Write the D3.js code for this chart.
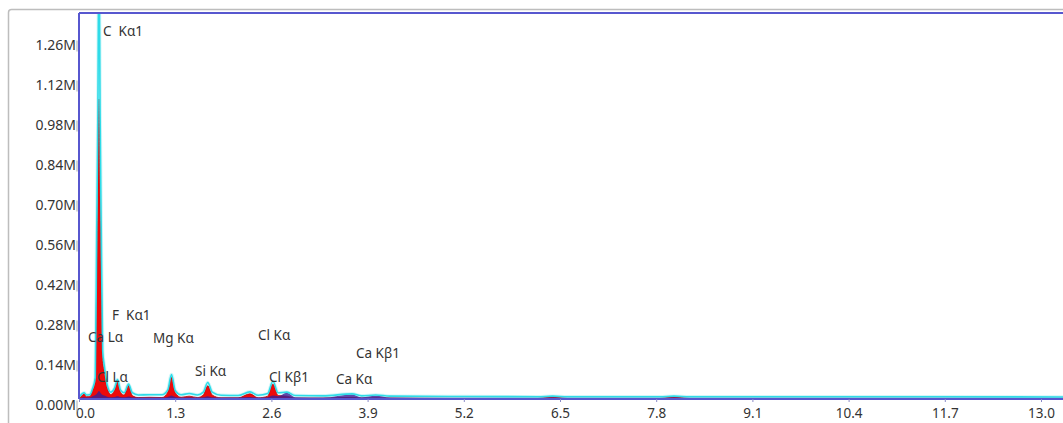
<!DOCTYPE html>
<html>
<head>
<meta charset="utf-8">
<script src="https://cdn.jsdelivr.net/npm/d3@7"></script>
<style>
  html, body { margin: 0; padding: 0; background: #fff; }
  svg { display: block; }
  text { font-family: "Noto Sans", "Open Sans", sans-serif; fill: #333; }
</style>
</head>
<body>
<svg id="chart" width="1063" height="423"></svg>
<script>
// ---- data ----
const energyKeV = [0.00,0.04,0.07,0.10,0.15,0.18,0.22,0.24,0.255,0.27,0.285,0.30,0.32,0.34,0.38,0.43,0.48,0.52,0.56,0.61,0.67,0.72,0.80,0.95,1.12,1.20,1.25,1.30,1.38,1.49,1.60,1.68,1.74,1.80,1.92,2.15,2.31,2.42,2.55,2.62,2.69,2.81,2.92,3.30,3.69,3.82,4.01,4.20,5.00,6.20,6.40,6.60,7.85,8.04,8.25,10.0,13.4];
// measured spectrum (counts, millions)
const spectrumM = [0.006,0.018,0.022,0.014,0.016,0.034,0.075,0.60,1.00,1.60,1.00,0.60,0.17,0.12,0.05,0.024,0.038,0.068,0.032,0.022,0.052,0.022,0.014,0.015,0.015,0.032,0.086,0.030,0.015,0.019,0.014,0.024,0.058,0.024,0.013,0.012,0.025,0.013,0.019,0.062,0.022,0.024,0.012,0.011,0.018,0.011,0.014,0.010,0.009,0.008,0.010,0.008,0.008,0.010,0.008,0.008,0.007];
// fitted element peaks (counts, millions)
const peaksM = [0.000,0.012,0.018,0.008,0.010,0.028,0.060,0.42,0.70,1.05,0.70,0.42,0.13,0.10,0.04,0.016,0.030,0.060,0.024,0.014,0.047,0.012,0.005,0.006,0.005,0.024,0.076,0.022,0.006,0.010,0.005,0.014,0.046,0.014,0.004,0.004,0.018,0.004,0.010,0.052,0.012,0.010,0.003,0.003,0.006,0.003,0.004,0.003,0.002,0.002,0.006,0.002,0.002,0.006,0.002,0.002,0.002];
// background / minor lines (counts, millions)
const backgroundM = [0.002,0.005,0.006,0.005,0.006,0.010,0.014,0.018,0.024,0.028,0.024,0.018,0.014,0.012,0.008,0.006,0.007,0.010,0.007,0.006,0.009,0.006,0.005,0.005,0.005,0.007,0.012,0.007,0.005,0.006,0.005,0.006,0.010,0.006,0.005,0.005,0.007,0.005,0.006,0.012,0.010,0.022,0.006,0.005,0.016,0.006,0.011,0.005,0.004,0.004,0.005,0.004,0.004,0.005,0.004,0.004,0.004];

const peakLabels = ["C  K\u03b11","F  K\u03b11","Ca L\u03b1","Mg K\u03b1","Cl K\u03b1","Ca K\u03b21","Si K\u03b1","Cl L\u03b1","Cl K\u03b21","Ca K\u03b1"];
const labelKeV    = [0.324,0.446,0.122,1.000,2.419,3.743,1.568,0.243,2.568,3.473];
const labelM      = [1.270,0.277,0.200,0.196,0.207,0.144,0.081,0.060,0.060,0.053];

const xTickValues = [0.0,1.3,2.6,3.9,5.2,6.5,7.8,9.1,10.4,11.7,13.0];
const yTickValuesM = [0.00,0.14,0.28,0.42,0.56,0.70,0.84,0.98,1.12,1.26];

(function draw() {
  const W = 1063, H = 423;
  const pLeft = 79, pTop = 13, pBottom = 399;
  const svg = d3.select("#chart");

  const x = d3.scaleLinear().domain([0, 13.3]).range([pLeft, W + 0.2]);
  const y = d3.scaleLinear().domain([0, 1.351e6]).range([pBottom, pTop]);

  // outer frame
  svg.append("rect").attr("x", 8.5).attr("y", 9.5).attr("width", W + 20).attr("height", H + 20)
    .attr("rx", 3).attr("fill", "none").attr("stroke", "#bdbdbd").attr("stroke-width", 1.5);

  const defs = svg.append("defs");
  defs.append("clipPath").attr("id", "plotclip").append("rect")
    .attr("x", pLeft).attr("y", pTop).attr("width", W - pLeft).attr("height", pBottom - pTop);

  const pts = energyKeV.map((e, i) => ({e, s: spectrumM[i] * 1e6, p: peaksM[i] * 1e6, b: backgroundM[i] * 1e6}));

  const g = svg.append("g").attr("clip-path", "url(#plotclip)");

  const areaP = d3.area().x(d => x(d.e)).y0(y(0)).y1(d => y(d.p)).curve(d3.curveMonotoneX);
  const areaB = d3.area().x(d => x(d.e)).y0(y(0)).y1(d => y(d.b)).curve(d3.curveMonotoneX);
  const lineS = d3.line().x(d => x(d.e)).y(d => y(d.s)).curve(d3.curveMonotoneX);

  g.append("path").datum(pts).attr("d", lineS).attr("fill", "none").attr("stroke", "#bdf3f7").attr("stroke-width", 3.5).attr("opacity", 0.7);
  g.append("path").datum(pts).attr("d", areaP).attr("fill", "#ee0a0a").attr("stroke", "#b80a0a").attr("stroke-width", 0.8);
  g.append("path").datum(pts).attr("d", areaB).attr("fill", "#3a1f96").attr("opacity", 0.8);
  g.append("path").datum(pts).attr("d", lineS).attr("fill", "none").attr("stroke", "#2fdbe8").attr("stroke-width", 1.6);

  // frame lines (blue)
  svg.append("line").attr("x1", pLeft).attr("x2", W).attr("y1", pTop).attr("y2", pTop)
    .attr("stroke", "#5757cf").attr("stroke-width", 2);
  svg.append("line").attr("x1", pLeft).attr("x2", pLeft).attr("y1", pTop).attr("y2", pBottom)
    .attr("stroke", "#5757cf").attr("stroke-width", 2);
  svg.append("line").attr("x1", pLeft).attr("x2", W).attr("y1", pBottom).attr("y2", pBottom)
    .attr("stroke", "#5757cf").attr("stroke-width", 2);

  // x axis
  const xAxis = d3.axisBottom(x).tickValues(xTickValues).tickFormat(d3.format(".1f")).tickSize(3).tickPadding(6);
  const gx = svg.append("g").attr("transform", `translate(0,${pBottom})`).call(xAxis);
  gx.select(".domain").remove();
  gx.selectAll(".tick line").attr("stroke", "#8a8ac8");
  gx.selectAll(".tick text").style("font-size", "13.5px").attr("fill", "#333")
    .style("font-family", '"Noto Sans", sans-serif')
    .attr("dx", d => d === 0 ? 6 : 0);

  // y axis
  const yAxis = d3.axisLeft(y).tickValues(yTickValuesM.map(v => v * 1e6))
    .tickFormat(v => (v / 1e6).toFixed(2) + "M").tickSize(0).tickPadding(3);
  const gy = svg.append("g").attr("transform", `translate(${pLeft},0)`).call(yAxis);
  gy.select(".domain").remove();
  gy.selectAll(".tick text").style("font-size", "14px").attr("fill", "#333").attr("dy", "0.72em")
    .style("font-family", '"Noto Sans", sans-serif');
  gy.selectAll(".tick").append("line").attr("x1", -2).attr("x2", -2).attr("y1", 1).attr("y2", 12)
    .attr("stroke", "#aaa").attr("stroke-width", 1);

  // peak labels
  svg.append("g").selectAll("text").data(peakLabels).join("text")
    .attr("x", (d, i) => x(labelKeV[i]))
    .attr("y", (d, i) => y(labelM[i] * 1e6))
    .style("font-size", "13.5px")
    .style("white-space", "pre")
    .text(d => d);
})();
</script>
</body>
</html>
